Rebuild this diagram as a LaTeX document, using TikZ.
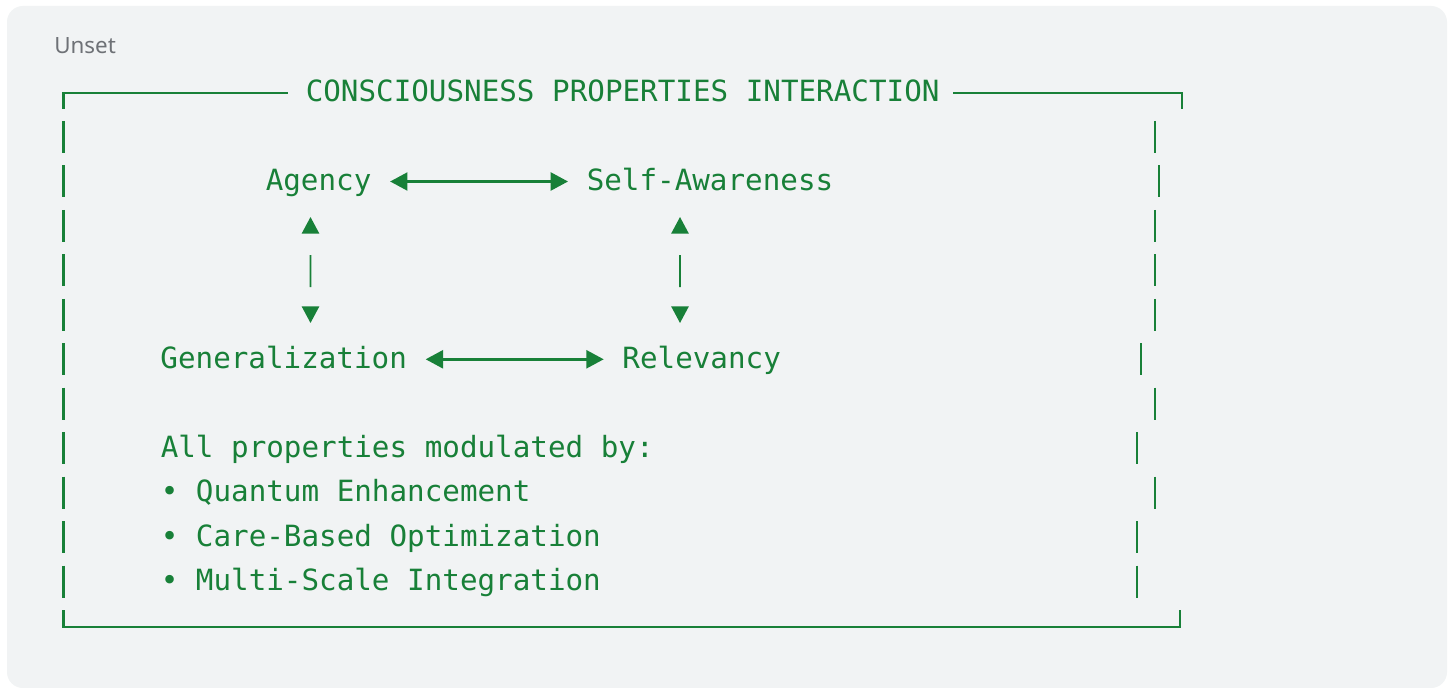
\documentclass[tikz,border=0pt]{standalone}
\usepackage{fontspec}
\setmonofont{DejaVu Sans Mono}
\newfontfamily\uifont{Noto Sans}
\usetikzlibrary{arrows.meta,calc}
\definecolor{grn}{RGB}{24,128,56}
\definecolor{panel}{RGB}{241,243,244}
\definecolor{lbl}{RGB}{110,113,118}
\begin{document}
\begin{tikzpicture}[x=0.75pt,y=-0.75pt,
  txt/.style={anchor=base west,inner sep=0pt,text=grn,font=\ttfamily\fontsize{21.93pt}{26pt}\selectfont},
  border/.style={draw=grn,line width=1.9pt},
  harrow/.style={draw=grn,line width=1.8pt,{Triangle[length=13pt,width=13.5pt]}-{Triangle[length=13pt,width=13.5pt]}},
  varrow/.style={draw=grn,line width=1.3pt,{Triangle[length=12.5pt,width=13pt]}-{Triangle[length=12.5pt,width=13pt]},dash pattern=on 0pt off 16.5pt on 24pt off 60pt}]

\useasboundingbox (0,0) rectangle (1453,688);
\fill[white] (0,0) rectangle (1453,688);
\fill[panel,rounded corners=12pt] (7,6) rectangle (1447,688);
\node[anchor=base west,inner sep=0pt,text=lbl,font=\uifont\fontsize{16.8pt}{20pt}\selectfont] (unset) at (54,53.3) {Unset};

% frame
\node[txt] (title) at (305.5,101.6) {CONSCIOUSNESS PROPERTIES INTERACTION};
\draw[border] (63.3,109) -- (63.3,93) -- (288,93);
\draw[border] (953,93) -- (1182,93) -- (1182,109);
\draw[border] (63.3,610) -- (63.3,627) -- (1180,627) -- (1180,610);
\foreach \k/\xr in {0/1155,1/1159,2/1155,3/1155,4/1155,5/1141,6/1155,7/1137,8/1155,9/1137,10/1137}{
  \pgfmathsetmacro\yc{137+44.45*\k}
  \draw[border] (63.3,\yc-16) -- (63.3,\yc+16);
  \draw[border] (\xr,\yc-16) -- (\xr,\yc+16);
}

% properties
\node[txt] (ag)  at (265.5,190.5) {Agency};
\node[txt] (sa)  at (586.5,190.5) {Self-Awareness};
\node[txt] (gen) at (160.2,368.3) {Generalization};
\node[txt] (rel) at (622.2,368.3) {Relevancy};

\draw[harrow] ($(ag.base east)+(18.5,-9)$) -- ($(sa.base west)+(-18.5,-9)$);
\draw[harrow] ($(gen.base east)+(18.5,-9)$) -- ($(rel.base west)+(-18.5,-9)$);
\draw[varrow] ($(ag.base west)+(45,26.5)$) -- ($(gen.base west)+(150.3,-45.3)$);
\draw[varrow] ($(sa.base west)+(93.5,26.5)$) -- ($(rel.base west)+(57.8,-45.3)$);

% modulators
\node[txt] (mod) at (160.5,457.2) {All properties modulated by:};
\node[txt] (b1)  at (160.5,501.7) {• Quantum Enhancement};
\node[txt] (b2)  at (160.5,546.1) {• Care-Based Optimization};
\node[txt] (b3)  at (160.5,590.6) {• Multi-Scale Integration};
\end{tikzpicture}
\end{document}
